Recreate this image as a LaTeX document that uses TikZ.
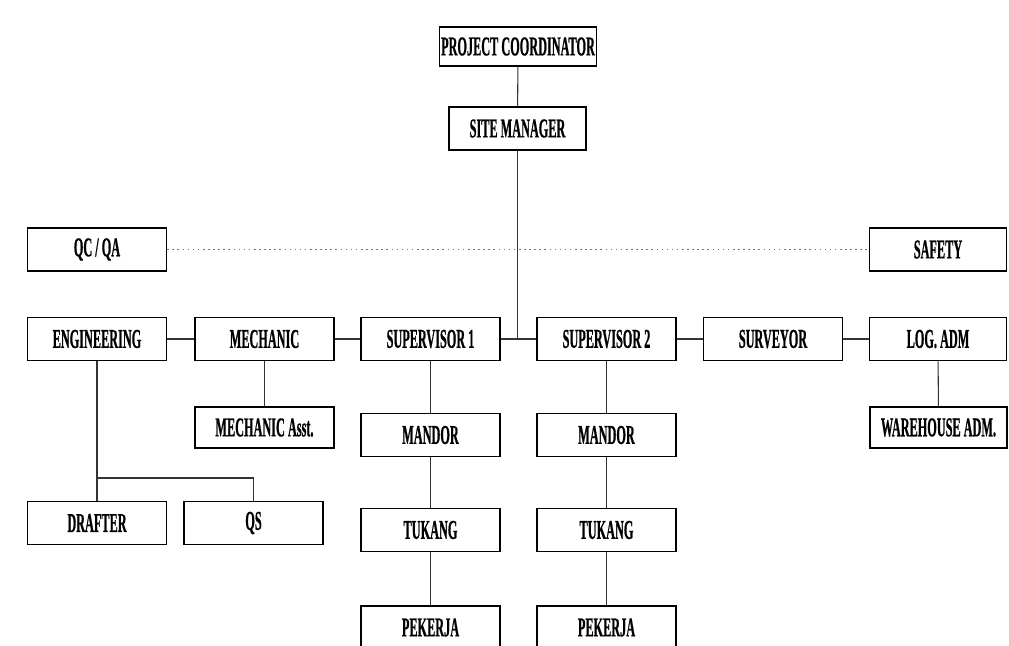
\documentclass[tikz,border=0pt]{standalone}
\usepackage{fontspec}
\setmainfont[FakeStretch=0.45, BoldFeatures={FakeBold=0.6}]{Liberation Serif}
\begin{document}
\begin{tikzpicture}[
  box/.style={rectangle, draw=black, line width=0.9pt, minimum width=2.78cm,
    minimum height=0.86cm, inner sep=1pt, align=center,
    font=\fontsize{15.5}{17}\selectfont\bfseries},
  link/.style={draw=black!80, line width=0.6pt},
  dotlink/.style={draw=black!55, line width=0.9pt, dotted},
]
\useasboundingbox (0,0) rectangle (20.18,-12.9);

\node[box, minimum width=3.12cm, minimum height=0.78cm] (pc) at (10.36, -0.93)
  {PROJECT COORDINATOR};
\node[box, minimum width=2.74cm] (sm) at (10.35, -2.57) {SITE MANAGER};

\node[box] (qcqa) at (1.94, -4.99) {QC / QA};
\node[box, minimum width=2.74cm] (safety) at (18.76, -4.99) {SAFETY};

\node[box] (eng) at (1.94, -6.78) {ENGINEERING};
\node[box] (mech) at (5.29, -6.78) {MECHANIC};
\node[box] (sup1) at (8.61, -6.78) {SUPERVISOR 1};
\node[box] (sup2) at (12.13, -6.78) {SUPERVISOR 2};
\node[box] (surv) at (15.46, -6.78) {SURVEYOR};
\node[box, minimum width=2.74cm] (logadm) at (18.76, -6.78) {LOG. ADM};

\node[box, minimum height=0.82cm] (mechasst) at (5.29, -8.55) {MECHANIC Asst.};
\node[box] (mandor1) at (8.61, -8.70) {MANDOR};
\node[box] (mandor2) at (12.13, -8.70) {MANDOR};
\node[box, minimum width=2.74cm, minimum height=0.82cm] (wh) at (18.77, -8.55)
  {WAREHOUSE ADM.};

\node[box] (drafter) at (1.94, -10.46) {DRAFTER};
\node[box] (qs) at (5.07, -10.46) {QS};
\node[box] (tukang1) at (8.61, -10.60) {TUKANG};
\node[box] (tukang2) at (12.13, -10.60) {TUKANG};

\node[box] (pekerja1) at (8.61, -12.55) {PEKERJA};
\node[box] (pekerja2) at (12.13, -12.55) {PEKERJA};

% top of the chart
\draw[link] (pc) -- (sm);
\draw[link] (sm.south) -- (sm.south |- sup1.east);
\draw[dotlink] (qcqa) -- (safety);

% second row
\draw[link] (eng) -- (mech);
\draw[link] (mech) -- (sup1);
\draw[link] (sup1) -- (sup2);
\draw[link] (sup2) -- (surv);
\draw[link] (surv) -- (logadm);

% branches
\draw[link] (mech) -- (mechasst);
\draw[link] (logadm) -- (wh);
\coordinate (engbus) at (1.94, -9.56);
\draw[link] (eng) -- (engbus) -- (drafter);
\draw[link] (engbus) -| (qs.north);

\draw[link] (sup1) -- (mandor1);
\draw[link] (mandor1) -- (tukang1);
\draw[link] (tukang1) -- (pekerja1);
\draw[link] (sup2) -- (mandor2);
\draw[link] (mandor2) -- (tukang2);
\draw[link] (tukang2) -- (pekerja2);

\end{tikzpicture}
\end{document}
